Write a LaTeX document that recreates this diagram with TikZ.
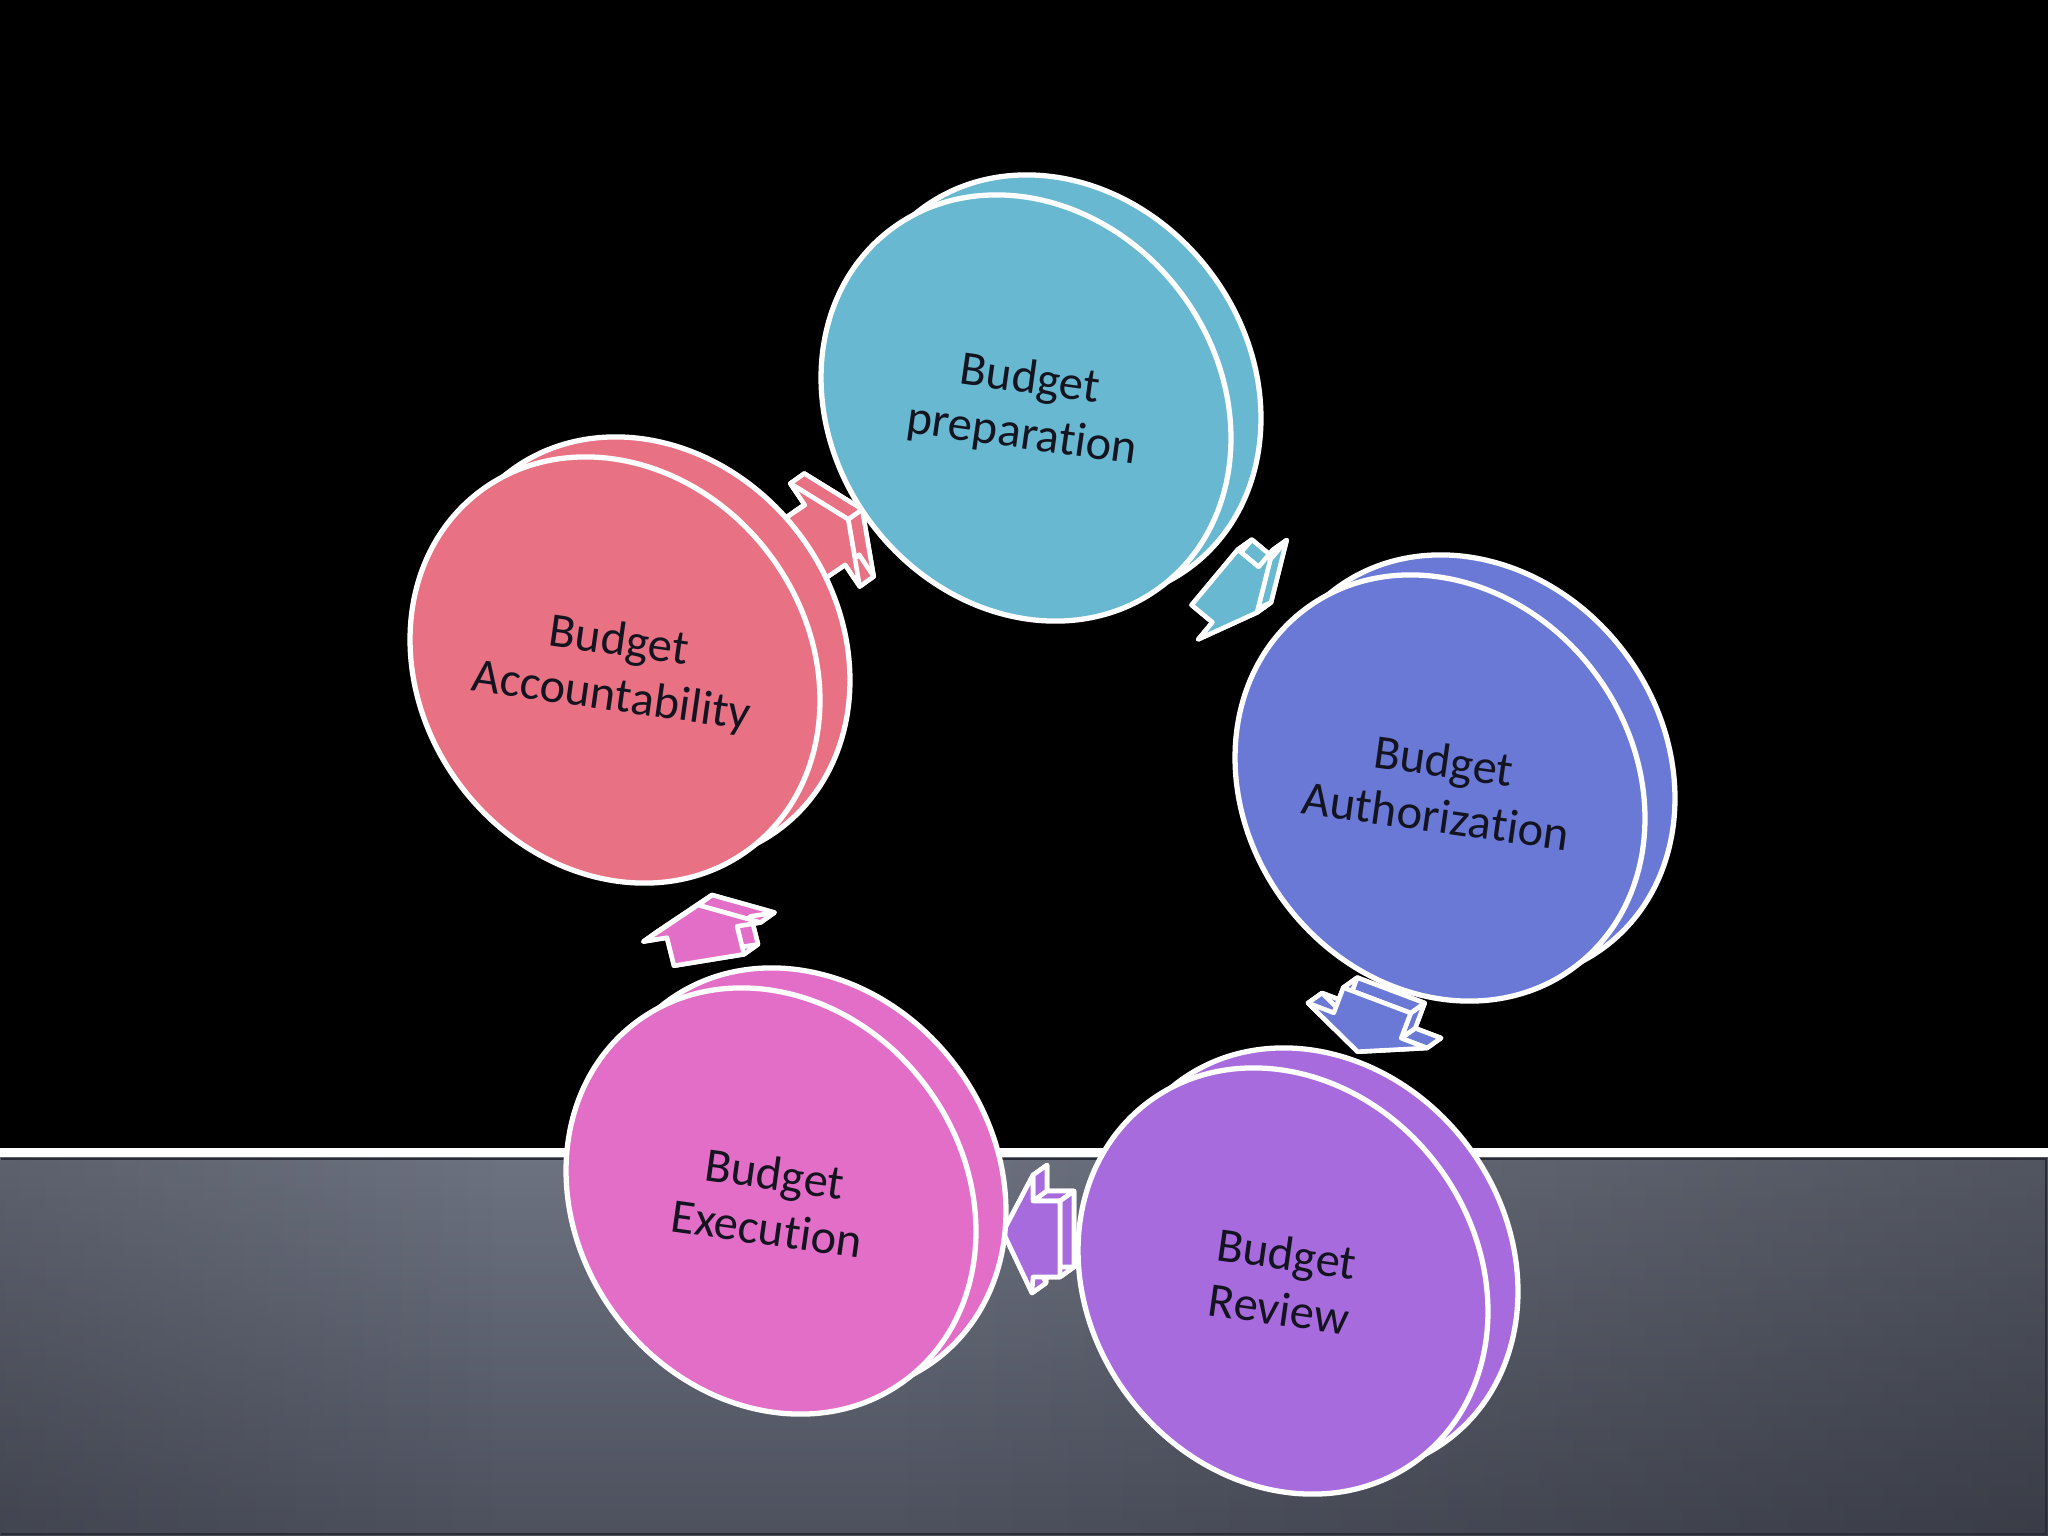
\documentclass[tikz,border=0pt]{standalone}
\usepackage{fontspec}
\setmainfont{Carlito}[Ligatures={NoCommon}]
\usetikzlibrary{calc,fadings}
\definecolor{cPrep}{HTML}{67B8D0}
\definecolor{cAuth}{HTML}{6A78D6}
\definecolor{cRev}{HTML}{A86BDE}
\definecolor{cExec}{HTML}{E36EC8}
\definecolor{cAcct}{HTML}{E87284}
\definecolor{gTop}{HTML}{6D7280}
\definecolor{gBot}{HTML}{4D515E}
\definecolor{edgeDark}{HTML}{2A2D36}
\definecolor{txt}{HTML}{141420}
\tikzset{
  discface/.style={fill=#1, draw=white, line width=1.5pt},
  arrowface/.style={fill=#1, draw=white, line width=1.3pt, line join=round},
  lbl/.style={align=center, text=txt, font=\fontsize{13.8}{15.8}\selectfont, inner sep=0pt}
}
% disc: #1 x, #2 y (screen, downwards), #3 colour, #4 text, #5 node name
\newcommand\disc[5]{%
  \begin{scope}[shift={(#1+30,-#2+20)}, rotate=-52.6]
    \filldraw[discface=#3] (0,0) ellipse [x radius=224, y radius=193];
  \end{scope}
  \begin{scope}[shift={(#1,-#2)}, rotate=-52.6]
    \filldraw[discface=#3] (0,0) ellipse [x radius=224, y radius=193];
  \end{scope}
  \node[lbl, rotate=-8] (#5) at (#1,-#2) {#4};
}
% block arrow from 7 named front vertices #1-1..#1-7, extruded by (14,10)
\newcommand\blockarrow[2]{%
  \filldraw[arrowface=#2] ($(#1-1)+(14,10)$) -- ($(#1-2)+(14,10)$) -- ($(#1-3)+(14,10)$) -- ($(#1-4)+(14,10)$) -- ($(#1-5)+(14,10)$) -- ($(#1-6)+(14,10)$) -- ($(#1-7)+(14,10)$) -- cycle;
  \foreach \i/\j in {1/2,2/3,3/4,4/5,5/6,6/7,7/1} {
    \filldraw[arrowface=#2] (#1-\i) -- (#1-\j) -- ($(#1-\j)+(14,10)$) -- ($(#1-\i)+(14,10)$) -- cycle;
  }
  \filldraw[arrowface=#2] (#1-1) -- (#1-2) -- (#1-3) -- (#1-4) -- (#1-5) -- (#1-6) -- (#1-7) -- cycle;
}
\begin{document}
\begin{tikzpicture}[x=0.01cm, y=0.01cm]
\useasboundingbox (0,0) rectangle (2048,-1536);
% background
\fill[black] (0,0) rectangle (2048,-1536);
\shade[top color=gTop, bottom color=gBot] (0,-1157) rectangle (2048,-1536);
\fill[black, fill opacity=0.25, path fading=west] (900,-1157) rectangle (2048,-1536);
\fill[black, fill opacity=0.15, path fading=east] (0,-1157) rectangle (500,-1536);
\draw[edgeDark, line width=0.6pt] (1,-1159) -- (2046,-1159) -- (2046,-1534) -- (1,-1534);
\fill[white] (0,-1148) rectangle (2048,-1157);

% arrow vertices
\coordinate (pa-1) at (1257,-612.5);
\coordinate (pa-2) at (1272.7,-550);
\coordinate (pa-3) at (1258.6,-566.9);
\coordinate (pa-4) at (1237.8,-549.6);
\coordinate (pa-5) at (1191.6,-605);
\coordinate (pa-6) at (1212.4,-622.3);
\coordinate (pa-7) at (1198.3,-639.3);

\coordinate (ar-1) at (1357.6,-1051.7);
\coordinate (ar-2) at (1427,-1048);
\coordinate (ar-3) at (1401.2,-1038.2);
\coordinate (ar-4) at (1410.7,-1013);
\coordinate (ar-5) at (1343.3,-987.6);
\coordinate (ar-6) at (1333.8,-1012.8);
\coordinate (ar-7) at (1308,-1003);

\coordinate (re-1) at (1003,-1232);
\coordinate (re-2) at (1033,-1175);
\coordinate (re-3) at (1033,-1201);
\coordinate (re-4) at (1060,-1201);
\coordinate (re-5) at (1060,-1277);
\coordinate (re-6) at (1033,-1277);
\coordinate (re-7) at (1032,-1293);

\coordinate (ea-1) at (698,-905);
\coordinate (ea-2) at (760.5,-922.5);
\coordinate (ea-3) at (737,-926.3);
\coordinate (ea-4) at (744,-954.3);
\coordinate (ea-5) at (674,-965.7);
\coordinate (ea-6) at (667,-937.7);
\coordinate (ea-7) at (643.5,-941.5);

\coordinate (ap-1) at (848.2,-519.3);
\coordinate (ap-2) at (859.7,-586.5);
\coordinate (ap-3) at (845.2,-564.9);
\coordinate (ap-4) at (822.8,-580);
\coordinate (ap-5) at (782.4,-520.2);
\coordinate (ap-6) at (804.8,-505.1);
\coordinate (ap-7) at (790.3,-483.5);

\blockarrow{pa}{cPrep}
\blockarrow{ar}{cAuth}
\blockarrow{re}{cRev}
\blockarrow{ea}{cExec}
\blockarrow{ap}{cAcct}

% discs
\disc{1026}{408}{cPrep}{Budget\\preparation}{tprep}
\disc{1440}{788}{cAuth}{Budget\\Authorization}{tauth}
\disc{1283}{1281}{cRev}{Budget\\Review}{trev}
\disc{771}{1201}{cExec}{Budget\\Execution}{texec}
\disc{615}{670}{cAcct}{Budget\\Accountability}{tacct}
\end{tikzpicture}
\end{document}
